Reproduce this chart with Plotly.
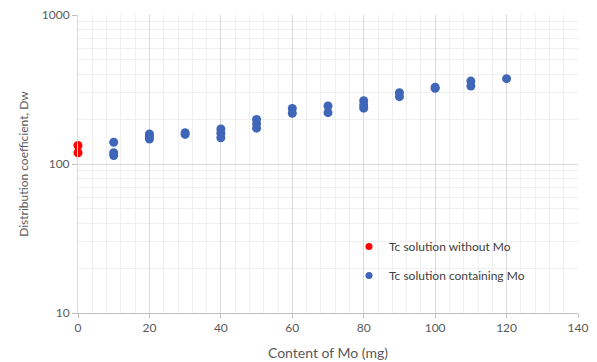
import plotly.graph_objects as go

# Data
red_x = [0, 0]
red_y = [133, 119]

blue_x = [10, 10, 10, 20, 20, 20, 30, 30, 40, 40, 40, 50, 50, 50,
          60, 60, 70, 70, 80, 80, 80, 90, 90, 100, 100, 110, 110, 120]
blue_y = [140, 119, 114, 159, 153, 147, 158, 162, 172, 161, 150, 199, 186, 174,
          236, 219, 245, 221, 266, 249, 237, 301, 283, 322, 328, 360, 334, 374]

red_name = "Tc solution without Mo"
blue_name = "Tc solution containing Mo"
x_title = "Content of Mo (mg)"
y_title = "Distribution coefficient, Dw"
x_ticks = [0, 20, 40, 60, 80, 100, 120, 140]
y_ticks = [10, 100, 1000]

RED = "#FF0000"
BLUE = "#3F66B8"

fig = go.Figure()
fig.add_trace(go.Scatter(x=red_x, y=red_y, mode="markers", name=red_name,
                         legendgroup="a", showlegend=False, cliponaxis=False,
                         marker=dict(color=RED, size=9)))
fig.add_trace(go.Scatter(x=blue_x, y=blue_y, mode="markers", name=blue_name,
                         legendgroup="b", showlegend=False, cliponaxis=False,
                         marker=dict(color=BLUE, size=9)))
# legend entries (smaller symbols, as in the reference legend)
fig.add_trace(go.Scatter(x=[None], y=[None], mode="markers", name=red_name,
                         legendgroup="a", marker=dict(color=RED, size=7)))
fig.add_trace(go.Scatter(x=[None], y=[None], mode="markers", name=blue_name,
                         legendgroup="b", marker=dict(color=BLUE, size=7)))

font_family = "Lato, 'Open Sans', sans-serif"
fig.update_layout(
    width=597, height=362,
    margin=dict(l=78, r=19, t=15, b=49),
    paper_bgcolor="white", plot_bgcolor="white",
    font=dict(family=font_family, color="#595959", size=12),
    legend=dict(x=0.542, y=0.272, xanchor="left", yanchor="top",
                bgcolor="rgba(0,0,0,0)", font=dict(size=12, color="#404040"),
                traceorder="grouped", tracegroupgap=10),
    xaxis=dict(range=[0, 140], tickvals=x_ticks, ticks="outside", ticklen=4,
               tickcolor="#bfbfbf", showline=True, linecolor="#bfbfbf",
               showgrid=True, gridcolor="#d9d9d9", zeroline=False, automargin=False,
               minor=dict(dtick=4, showgrid=True, gridcolor="#efefef"),
               title=dict(text=x_title, font=dict(size=14, color="#595959"), standoff=13),
               tickfont=dict(size=12, color="#595959")),
    yaxis=dict(type="log", range=[1, 3], tickvals=y_ticks, ticks="outside", ticklen=5,
               tickcolor="#bfbfbf", showline=True, linecolor="#d9d9d9",
               showgrid=True, gridcolor="#d9d9d9", zeroline=False, automargin=False,
               minor=dict(dtick="D1", showgrid=True, gridcolor="#efefef"),
               title=dict(text=y_title, font=dict(size=12, color="#595959"), standoff=10),
               tickfont=dict(size=12, color="#595959")),
)

fig.write_html("out.html", config={"displayModeBar": False},
               post_script="document.body.style.margin='0';document.body.style.padding='0';")
